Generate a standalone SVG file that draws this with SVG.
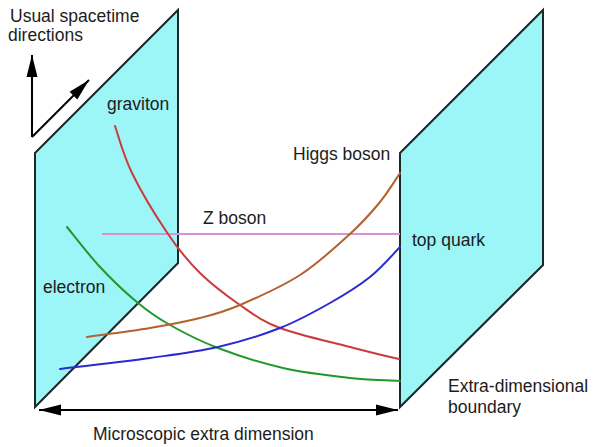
<svg xmlns="http://www.w3.org/2000/svg" width="595" height="447" viewBox="0 0 595 447">
<style>
.panel{fill:#9cf5f7;stroke:#1a2828;stroke-width:2;stroke-linejoin:miter}
.lbl{font-family:"Liberation Sans",Arial,sans-serif;font-size:17.5px;fill:#1c1c1c}
.curve{fill:none;stroke-width:2;stroke-linecap:round}
.ax{stroke:#000;stroke-width:2;fill:none}
</style>
<defs>
<marker id="ah" markerUnits="userSpaceOnUse" markerWidth="22" markerHeight="12" refX="22" refY="6" orient="auto-start-reverse">
<path d="M0,0.5 L22,6 L0,11.5 Z" fill="#000"/>
</marker>
</defs>
<rect width="595" height="447" fill="#fff"/>
<g id="left-boundary">
<polygon class="panel" points="35,153 178,10 178,263 35,407"/>
</g>
<g id="right-boundary">
<polygon class="panel" points="400,153 543,10 543,265 400,407"/>
</g>
<g id="connectors">
<line class="ax" x1="32" y1="137" x2="32" y2="55" marker-end="url(#ah)"/>
<line class="ax" x1="32" y1="137" x2="89" y2="80" marker-end="url(#ah)"/>
<line class="ax" x1="39" y1="410" x2="398" y2="410" marker-start="url(#ah)" marker-end="url(#ah)"/>
<line x1="102" y1="234" x2="400" y2="234" stroke="#d890d8" stroke-width="2.2"/>
<path id="graviton-curve" class="curve" stroke="#cc3b3b" d="M115,126 C117.8,133.8 123.2,155 132,173 C140.8,191 156.7,217.3 168,234 C179.3,250.7 188,261.2 200,273 C212,284.8 226.7,295.8 240,305 C253.3,314.2 261.7,321 280,328 C298.3,335 330.3,341.8 350,347 C369.7,352.2 390,357 399,359"/>
<path id="electron-curve" class="curve" stroke="#1f9a2a" d="M67,227 C72.5,233.7 88.2,254.3 100,267 C111.8,279.7 126.3,293.3 138,303 C149.7,312.7 156.7,317.5 170,325 C183.3,332.5 199.2,340.8 218,348 C236.8,355.2 261,363 283,368 C305,373 330.5,375.8 350,378 C369.5,380.2 391.7,380.5 400,381"/>
<path id="higgs-curve" class="curve" stroke="#b2622e" d="M87,337 C97.5,335.5 131.2,331.2 150,328 C168.8,324.8 185,321.8 200,318 C215,314.2 223.3,312.2 240,305 C256.7,297.8 281.7,286.8 300,275 C318.3,263.2 336.7,246.2 350,234 C363.3,221.8 371.7,212.2 380,202 C388.3,191.8 396.7,177.8 400,173"/>
<path id="top-curve" class="curve" stroke="#2a2ad0" d="M60,369 C75,367.2 123.7,361.7 150,358 C176.3,354.3 196.3,352 218,347 C239.7,342 261.3,335.3 280,328 C298.7,320.7 315,311.5 330,303 C345,294.5 358.3,286.3 370,277 C381.7,267.7 395,252 400,247"/>
</g>
<g id="labels">
<text class="lbl" x="10" y="22">Usual spacetime</text>
<text class="lbl" x="8" y="41">directions</text>
<text class="lbl" x="107" y="110">graviton</text>
<text class="lbl" x="293" y="160">Higgs boson</text>
<text class="lbl" x="203" y="224">Z boson</text>
<text class="lbl" x="412" y="246">top quark</text>
<text class="lbl" x="43" y="293">electron</text>
<text class="lbl" x="448" y="392">Extra-dimensional</text>
<text class="lbl" x="448" y="413">boundary</text>
<text class="lbl" x="93" y="440">Microscopic extra dimension</text>
</g>
</svg>
